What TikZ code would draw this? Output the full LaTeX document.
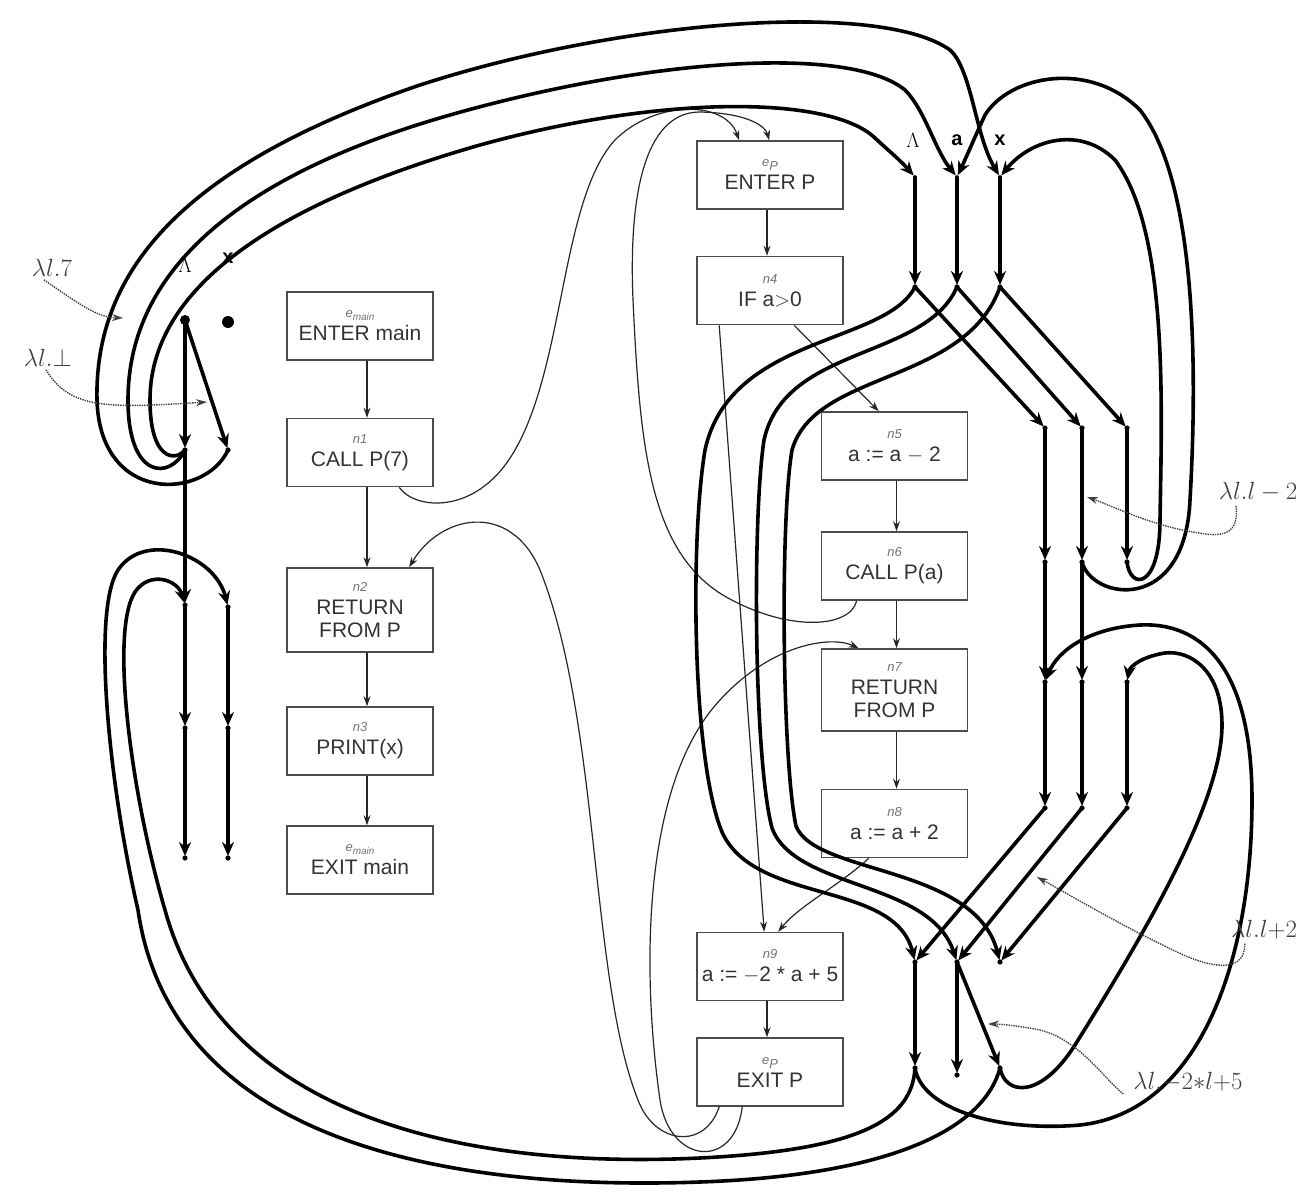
\documentclass[tikz,border=0pt]{standalone}
\usepackage{fontspec}
\setsansfont{Liberation Sans}
\usetikzlibrary{arrows.meta,calc}
\newcommand{\subl}[1]{{\fontsize{13}{14}\selectfont\itshape\color{black!55}#1}}
\newcommand{\lam}[1]{{\fontsize{24}{26}\selectfont\color{black!75}$#1$}}
\begin{document}
\begin{tikzpicture}[x=1pt,y=-1pt,
  box/.style={draw=black!70,line width=1.6pt,minimum width=146pt,minimum height=68pt,inner sep=0pt,align=center,font=\sffamily\fontsize{21}{23}\selectfont,text=black!80},
  ef/.style={line width=3.6pt,line cap=round,-{Stealth[length=14pt,width=12pt]},shorten >=2pt},
  thin/.style={line width=1.2pt,black!85,-{Stealth[length=10pt,width=7pt]}},
  dotp/.style={densely dotted,line width=1.4pt,black!75,-{Stealth[length=11pt,width=7pt]}},
  var/.style={font=\sffamily\bfseries\fontsize{20}{20}\selectfont},
  lbl/.style={inner sep=0pt}]
\useasboundingbox (0,0) rectangle (1307,1196);

% ---------- flow-graph boxes ----------
\node[box] (emain) at (360,326) {\subl{e\raisebox{-3pt}{\fontsize{10}{10}\selectfont main}}\\ENTER main};
\node[box] (n1) at (360,452.5) {\subl{n1}\\CALL P(7)};
\node[box,minimum height=84pt] (n2) at (360,610) {\subl{n2}\\RETURN\\FROM P};
\node[box] (n3) at (360,741) {\subl{n3}\\PRINT(x)};
\node[box] (xmain) at (360,860) {\subl{e\raisebox{-3pt}{\fontsize{10}{10}\selectfont main}}\\EXIT main};

\node[box] (ep) at (770,175) {\subl{e\raisebox{-4pt}{P}}\\ENTER P};
\node[box] (n4) at (770,290.5) {\subl{n4}\\IF a$>$0};
\node[box] (n5) at (894.5,446) {\subl{n5}\\a := a $-$ 2};
\node[box] (n6) at (894.5,566) {\subl{n6}\\CALL P(a)};
\node[box,minimum height=82pt] (n7) at (894.5,690) {\subl{n7}\\RETURN\\FROM P};
\node[box] (n8) at (894.5,823.5) {\subl{n8}\\a := a + 2};
\node[box] (n9) at (770,966.5) {\subl{n9}\\a := $-$2 * a + 5};
\node[box] (xp) at (770,1072) {\subl{e\raisebox{-4pt}{P}}\\EXIT P};

% ---------- thin control-flow edges ----------
\draw[thin] ([xshift=7pt]emain.south) -- ([xshift=7pt]n1.north);
\draw[thin] ([xshift=7pt]n1.south) -- ([xshift=7pt]n2.north);
\draw[thin] ([xshift=7pt]n2.south) -- ([xshift=7pt]n3.north);
\draw[thin] ([xshift=7pt]n3.south) -- ([xshift=7pt]xmain.north);
\draw[thin] ([xshift=-3pt]ep.south) -- ([xshift=-3pt]n4.north);
\draw[thin] ([xshift=2pt]n5.south) -- ([xshift=2pt]n6.north);
\draw[thin] ([xshift=2pt]n6.south) -- ([xshift=2pt]n7.north);
\draw[thin] ([xshift=2pt]n7.south) -- ([xshift=2pt]n8.north);
\draw[thin] ([xshift=-3pt]n9.south) -- ([xshift=-3pt]xp.north);
\draw[thin] ([xshift=98pt]n4.south west) -- ([xshift=58pt]n5.north west);
\draw[thin] ([xshift=23pt]n4.south west) -- ([xshift=68pt]n9.north west);
\draw[thin] ([xshift=48pt]n8.south west) .. controls (840,885) and (800,905) .. ([xshift=82pt]n9.north west);
% call / return edges
\draw[thin] ([xshift=113pt]n1.south west) .. controls (415,510) and (475,515) .. (512,455)
  .. controls (565,370) and (560,200) .. (615,140) .. controls (655,100) and (725,100) .. ([xshift=43pt]ep.north west);
\draw[thin] ([xshift=36pt]n6.south west) .. controls (850,628) and (790,632) .. (728,598)
  .. controls (650,555) and (640,450) .. (633,300) .. controls (628,180) and (650,112) .. (700,112)
  .. controls (745,113) and (765,125) .. ([xshift=73pt]ep.north west);
\draw[thin] ([xshift=23pt]xp.south west) .. controls (705,1150) and (655,1145) .. (638,1100)
  .. controls (590,980) and (600,720) .. (540,570) .. controls (510,500) and (440,515) .. ([xshift=123pt]n2.north west);
\draw[thin] ([xshift=46pt]xp.south west) .. controls (735,1170) and (670,1165) .. (660,1100)
  .. controls (640,960) and (645,780) .. (720,700) .. controls (770,645) and (830,635) .. ([xshift=38pt]n7.north west);

% ---------- exploded-graph vertices ----------
\coordinate (mL0) at (185,320); \coordinate (mX0) at (228,322);
\coordinate (mL1) at (185,450); \coordinate (mX1) at (228,450);
\coordinate (mL2) at (185,605); \coordinate (mX2) at (228,607);
\coordinate (mL3) at (185,728); \coordinate (mX3) at (228,728);
\coordinate (mL4) at (185,858); \coordinate (mX4) at (228,858);
\coordinate (pL0) at (915,177); \coordinate (pA0) at (957,177); \coordinate (pX0) at (1000,177);
\coordinate (pL1) at (915,287); \coordinate (pA1) at (957,287); \coordinate (pX1) at (1000,287);
\coordinate (qL1) at (1045,428); \coordinate (qA1) at (1082,428); \coordinate (qX1) at (1127,428);
\coordinate (qL2) at (1045,562); \coordinate (qA2) at (1082,562); \coordinate (qX2) at (1127,562);
\coordinate (qL3) at (1045,682); \coordinate (qA3) at (1082,682); \coordinate (qX3) at (1127,682);
\coordinate (qL4) at (1045,808); \coordinate (qA4) at (1082,808); \coordinate (qX4) at (1127,808);
\coordinate (pL2) at (915,962); \coordinate (pA2) at (957,962); \coordinate (pX2) at (1000,962);
\coordinate (pL3) at (915,1068); \coordinate (pA3) at (957,1075); \coordinate (pX3) at (1000,1068);

\node[lbl] (tL) at (185,265) {\fontsize{20}{20}\selectfont$\Lambda$};
\node[var] (tX) at (228,258) {x};
\node[lbl] (tPL) at (913,140) {\fontsize{20}{20}\selectfont$\Lambda$};
\node[var] (tPA) at (957,140) {a};
\node[var] (tPX) at (1000,140) {x};

% main
\draw[ef] (mL0) -- (mL1);
\draw[ef] (mL0) -- (mX1);
\draw[ef] (mL1) -- (mL2);
\draw[ef] (mL2) -- (mL3);
\draw[ef] (mL3) -- (mL4);
\draw[ef] (mX2) -- (mX3);
\draw[ef] (mX3) -- (mX4);
% P straight edges
\foreach \v in {L,A,X}{
  \draw[ef] (p\v0) -- (p\v1);
  \draw[ef] (p\v1) -- (q\v1);
  \draw[ef] (q\v1) -- (q\v2);
  \draw[ef] (q\v3) -- (q\v4);
  \draw[ef] (q\v4) -- (p\v2);
}
\draw[ef] (qL2) -- (qL3);
\draw[ef] (qA2) -- (qA3);
\draw[ef] (pL2) -- (pL3);
\draw[ef] (pA2) -- (pA3);
\draw[ef] (pA2) -- (pX3);
% n4 -> n9
\draw[ef] (pL1) .. controls (885,345) and (730,335) .. (705,450) .. controls (690,540) and (692,760) .. (722,832) .. controls (755,905) and (895,880) .. (pL2);
\draw[ef] (pA1) .. controls (925,360) and (785,345) .. (764,440) .. controls (752,520) and (754,760) .. (772,828) .. controls (795,890) and (930,880) .. (pA2);
\draw[ef] (pX1) .. controls (965,385) and (815,370) .. (792,450) .. controls (780,520) and (782,760) .. (796,826) .. controls (815,875) and (975,865) .. (pX2);
% main call n1 -> enter P
\draw[ef] (mX1) .. controls (205,500) and (100,505) .. (97,400) .. controls (94,260) and (200,160) .. (420,85) .. controls (620,20) and (880,0) .. (950,50) .. controls (972,70) and (975,135) .. (pX0);
\draw[ef] (mL1) .. controls (170,480) and (128,480) .. (128,400) .. controls (128,270) and (240,175) .. (450,115) .. controls (650,58) and (850,45) .. (905,90) .. controls (925,110) and (935,150) .. (pA0);
\draw[ef] (mL1) .. controls (175,462) and (150,460) .. (150,400) .. controls (150,290) and (270,205) .. (480,145) .. controls (660,95) and (830,95) .. (875,138) .. controls (890,152) and (900,160) .. (pL0);
% recursive call n6 -> enter P
\draw[ef] (qA2) .. controls (1092,600) and (1185,615) .. (1190,500) .. controls (1198,360) and (1195,180) .. (1140,110) .. controls (1090,60) and (1010,75) .. (985,115) .. controls (978,130) and (965,160) .. (pA0);
\draw[ef] (qX2) .. controls (1130,590) and (1160,590) .. (1160,520) .. controls (1162,400) and (1168,230) .. (1115,160) .. controls (1080,125) and (1030,140) .. (pX0);
% returns exit P -> n7
\draw[ef] (pL3) .. controls (922,1110) and (1000,1132) .. (1080,1125) .. controls (1200,1112) and (1252,960) .. (1252,800) .. controls (1252,665) and (1200,622) .. (1140,625) .. controls (1090,628) and (1058,650) .. (qL3);
\draw[ef] (pX3) .. controls (1005,1095) and (1040,1100) .. (1075,1045) .. controls (1150,925) and (1222,800) .. (1222,725) .. controls (1222,670) and (1190,650) .. (1165,653) .. controls (1145,656) and (1130,665) .. (qX3);
% returns exit P -> n2
\draw[ef] (pL3) .. controls (912,1120) and (860,1150) .. (700,1158) .. controls (450,1170) and (220,1110) .. (165,910) .. controls (130,790) and (110,630) .. (135,592) .. controls (150,570) and (178,580) .. (mL2);
\draw[ef] (pX3) .. controls (985,1125) and (900,1175) .. (700,1182) .. controls (420,1192) and (170,1130) .. (138,910) .. controls (108,780) and (92,610) .. (118,570) .. controls (145,530) and (215,555) .. (mX2);

% vertex dots
\fill (mL0) circle (5pt);
\fill (mX0) circle (6pt);
\foreach \c in {mL1,mX1,mL2,mX2,mL3,mX3,mL4,mX4,pL1,pA1,pX1,qL1,qA1,qX1,qL2,qA2,qX2,qL3,qA3,qX3,qL4,qA4,qX4,pL2,pA2,pX2,pL3,pA3,pX3}
  \fill (\c) circle (2.6pt);

% ---------- labels of edge functions ----------
\node[lbl] (f7) at (52,268) {\lam{\lambda l.7}};
\node[lbl] (fb) at (48,358) {\lam{\lambda l.\bot}};
\node[lbl] (fm2) at (1258,492) {\lam{\lambda l.l-2}};
\node[lbl] (fp2) at (1264,930) {\lam{\lambda l.l{+}2}};
\node[lbl] (fx) at (1188,1082) {\lam{\lambda l.{-2}{*}l{+}5}};
\coordinate (t7) at (123,318);
\coordinate (tb) at (207,402);
\coordinate (tm2) at (1087,497);
\coordinate (tp2) at (1037,877);
\coordinate (tx) at (988,1024);
\draw[dotp] ([xshift=-8pt,yshift=-3pt]f7.south) .. controls (90,312) and (100,317) .. (t7);
\draw[dotp] ([xshift=-2pt,yshift=-3pt]fb.south) .. controls (70,410) and (110,408) .. (tb);
\draw[dotp] ([xshift=-22pt,yshift=-4pt]fm2.south) .. controls (1240,540) and (1215,536) .. (1193,532) .. controls (1150,525) and (1110,505) .. (tm2);
\draw[dotp] ([xshift=14pt,yshift=-4pt]fp2.south west) .. controls (1245,972) and (1215,970) .. (1177,952) .. controls (1120,925) and (1070,895) .. (tp2);
\draw[dotp] ([xshift=-10pt,yshift=-2pt]fx.south west) .. controls (1105,1080) and (1080,1040) .. (1040,1030) .. controls (1020,1026) and (1000,1024) .. (tx);
\end{tikzpicture}
\end{document}
